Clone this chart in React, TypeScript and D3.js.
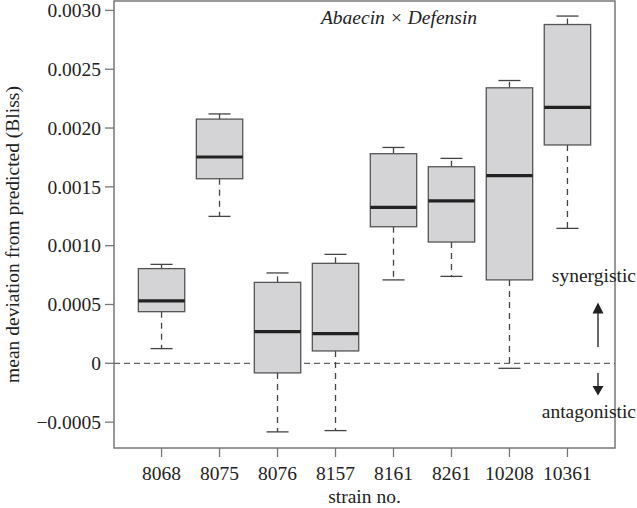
import React from "react";
import * as d3 from "d3";

const strains = ["8068", "8075", "8076", "8157", "8161", "8261", "10208", "10361"];
const whiskerLow = [0.000125, 0.001249, -0.000583, -0.000572, 0.000709, 0.000739, -0.0000425, 0.001147];
const q1 = [0.000439, 0.001569, -0.0000816, 0.000105, 0.001161, 0.001031, 0.000709, 0.001856];
const medians = [0.00053, 0.001754, 0.000269, 0.000252, 0.001325, 0.00138, 0.001595, 0.002175];
const q3 = [0.000805, 0.002076, 0.000688, 0.00085, 0.001782, 0.001671, 0.002342, 0.00288];
const whiskerHigh = [0.000841, 0.00212, 0.000768, 0.000926, 0.001835, 0.001742, 0.002404, 0.002952];
const yTicks = [-0.0005, 0, 0.0005, 0.001, 0.0015, 0.002, 0.0025, 0.003];
const yTickLabels = ["\u22120.0005", "0", "0.0005", "0.0010", "0.0015", "0.0020", "0.0025", "0.0030"];

const W = 637, H = 508;
const left = 114, right = 615, top = 1, bottom = 448;
const font = "'Liberation Serif', 'Times New Roman', serif";

export default function App() {
  const x = d3.scaleLinear().domain([-0.82, strains.length - 1 + 0.82]).range([left, right]);
  const y = d3.scaleLinear().domain([-0.00072, 0.00308]).range([bottom, top]);
  const step = x(1) - x(0);
  const bw = step * 0.8;
  const cw = step * 0.38;
  const axisColor = "#777";
  const ax = 598;
  return (
    <svg width={W} height={H} style={{ position: "absolute", left: 0, top: 0, background: "#fff" }} fontFamily={font}>
      {/* frame */}
      <rect x={left} y={top} width={right - left} height={bottom - top} fill="none" stroke={axisColor} strokeWidth={1.5} />
      {/* zero line */}
      <line x1={left} x2={right} y1={y(0)} y2={y(0)} stroke="#666" strokeWidth={1.3} strokeDasharray="6,4" />
      {/* y ticks */}
      {yTicks.map((t, i) => (
        <g key={i}>
          <line x1={left - 9} x2={left} y1={y(t)} y2={y(t)} stroke={axisColor} strokeWidth={1.3} />
          <text x={left - 13} y={y(t)} dy="0.35em" textAnchor="end" fontSize={19.5} fill="#222">{yTickLabels[i]}</text>
        </g>
      ))}
      {/* x ticks */}
      {strains.map((s, i) => (
        <g key={s}>
          <line x1={x(i)} x2={x(i)} y1={bottom} y2={bottom + 9} stroke={axisColor} strokeWidth={1.3} />
          <text x={x(i)} y={480} textAnchor="middle" fontSize={19.5} fill="#222">{s}</text>
        </g>
      ))}
      <text x={x(3.5)} y={503} textAnchor="middle" fontSize={19.5} fill="#222">strain no.</text>
      <text transform={`translate(19,${(top + bottom) / 2 + 10}) rotate(-90)`} textAnchor="middle" fontSize={19.5} fill="#222">
        mean deviation from predicted (Bliss)
      </text>
      {/* boxes */}
      {strains.map((s, i) => {
        const cx = x(i);
        return (
          <g key={"b" + s}>
            <line x1={cx} x2={cx} y1={y(q3[i])} y2={y(whiskerHigh[i])} stroke="#444" strokeWidth={1.3} strokeDasharray="6,5" />
            <line x1={cx} x2={cx} y1={y(q1[i])} y2={y(whiskerLow[i])} stroke="#444" strokeWidth={1.3} strokeDasharray="6,5" />
            <line x1={cx - cw / 2} x2={cx + cw / 2} y1={y(whiskerHigh[i])} y2={y(whiskerHigh[i])} stroke="#444" strokeWidth={1.3} />
            <line x1={cx - cw / 2} x2={cx + cw / 2} y1={y(whiskerLow[i])} y2={y(whiskerLow[i])} stroke="#444" strokeWidth={1.3} />
            <rect x={cx - bw / 2} y={y(q3[i])} width={bw} height={y(q1[i]) - y(q3[i])} fill="#d4d4d6" stroke="#555" strokeWidth={1.3} />
            <line x1={cx - bw / 2} x2={cx + bw / 2} y1={y(medians[i])} y2={y(medians[i])} stroke="#222" strokeWidth={3.2} />
          </g>
        );
      })}
      {/* title */}
      <text x={399} y={24} textAnchor="middle" fontSize={19.5} fontStyle="italic" fill="#222">
        Abaecin {"\u00d7"} Defensin
      </text>
      {/* annotations */}
      <text x={636} y={282} textAnchor="end" fontSize={19.5} fill="#222">synergistic</text>
      <text x={636} y={418} textAnchor="end" fontSize={19.5} fill="#222">antagonistic</text>
      <line x1={ax} x2={ax} y1={347} y2={312} stroke="#444" strokeWidth={1.6} />
      <path d={`M${ax},302.5 L${ax - 5.5},313.5 L${ax + 5.5},313.5 Z`} fill="#222" />
      <line x1={ax} x2={ax} y1={373} y2={387} stroke="#444" strokeWidth={1.6} />
      <path d={`M${ax},395.5 L${ax - 5.5},386 L${ax + 5.5},386 Z`} fill="#222" />
    </svg>
  );
}
